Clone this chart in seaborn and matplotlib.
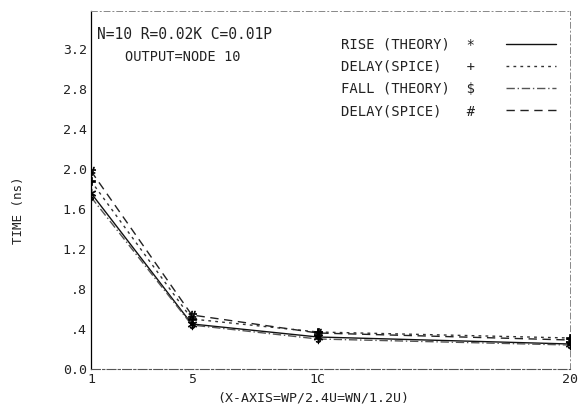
import numpy as np
import pandas as pd
import seaborn as sns
import matplotlib.pyplot as plt

# width ratio WP/2.4U
width = [1, 5, 10, 20]
rise_theory = [1.76, 0.45, 0.32, 0.25]
delay_spice_a = [1.88, 0.50, 0.37, 0.31]
fall_theory = [1.72, 0.44, 0.30, 0.24]
delay_spice_b = [1.98, 0.54, 0.36, 0.29]

series = ["RISE (THEORY)", "DELAY(SPICE) ", "FALL (THEORY)", "DELAY(SPICE)  "]
symbols = ["*", "+", "$", "#"]
ytick_vals = [0.0, 0.4, 0.8, 1.2, 1.6, 2.0, 2.4, 2.8, 3.2]
ytick_text = ["0.0", ".4", ".8", "1.2", "1.6", "2.0", "2.4", "2.8", "3.2"]
xtick_vals = [1, 5, 10, 20]
xtick_text = ["1", "5", "1C", "20"]

df = pd.DataFrame({
    "x": width * 4,
    "t": rise_theory + delay_spice_a + fall_theory + delay_spice_b,
    "s": [s for s in series for _ in width],
})

sns.set_style("white")
plt.rcParams["font.family"] = ["DejaVu Sans Mono"]
plt.rcParams["text.color"] = "#222222"

fig = plt.figure(figsize=(5.81, 4.08), dpi=100)
ax = fig.add_axes([0.1566, 0.0956, 0.8244, 0.8774])

dashes = {series[0]: "", series[1]: (2, 3), series[2]: (6, 2, 1, 2), series[3]: (6, 4)}
palette = {series[0]: "#111111", series[1]: "#333333", series[2]: "#555555", series[3]: "#222222"}
sns.lineplot(data=df, x="x", y="t", hue="s", style="s", dashes=dashes,
             palette=palette, linewidth=1.0, ax=ax, legend=False)

# point symbols at data points
mk = [r"$*$", r"$+$", r"$\$$", r"$\#$"]
for s, m in zip(series, mk):
    d = df[df.s == s]
    ax.scatter(d.x, d.t, marker=m, s=40, color="black", linewidths=0.5, zorder=3)

ax.set_xlim(1, 20)
ax.set_ylim(0, 3.58)
ax.set_yticks(ytick_vals)
ax.set_yticklabels(ytick_text, fontsize=9.5, color="#222222")
ax.set_xticks(xtick_vals)
ax.set_xticklabels(xtick_text, fontsize=9.5, color="#222222")
ax.tick_params(direction="in", length=4, width=0.8, color="black", pad=3)
ax.set_xlabel("")
ax.set_ylabel("")

ax.spines["left"].set_color("black")
ax.spines["left"].set_linewidth(0.9)
ax.spines["bottom"].set_color("#555555")
ax.spines["bottom"].set_linestyle((0, (8, 2, 2, 2)))
ax.spines["bottom"].set_linewidth(0.8)
for side in ["top", "right"]:
    ax.spines[side].set_color("#888888")
    ax.spines[side].set_linestyle((0, (6, 3, 1, 3)))
    ax.spines[side].set_linewidth(0.7)

ax.text(0.013, 0.955, "N=10 R=0.02K C=0.01P", transform=ax.transAxes,
        fontsize=10.5, va="top", ha="left")
ax.text(0.071, 0.89, "OUTPUT=NODE 10", transform=ax.transAxes,
        fontsize=9.8, va="top", ha="left")

# legend: label, symbol, line sample
handles = [plt.Line2D([], [], color=palette[s], lw=1.0,
                      linestyle=(0, dashes[s]) if dashes[s] else "-") for s in series]
labels = [f"{s.strip():<14} {c}" for s, c in zip(series, symbols)]
leg = ax.legend(handles, labels, loc="upper right", bbox_to_anchor=(0.996, 0.96),
                frameon=False, markerfirst=False, fontsize=10, handlelength=3.6,
                handletextpad=2.2, labelspacing=0.58)

fig.text(0.031, 0.485, "TIME (ns)", rotation=90, fontsize=9, ha="center", va="center")
fig.text(0.54, 0.024, "(X-AXIS=WP/2.4U=WN/1.2U)", fontsize=9.5, ha="center", va="center")

fig.savefig("out.png", dpi=100)
